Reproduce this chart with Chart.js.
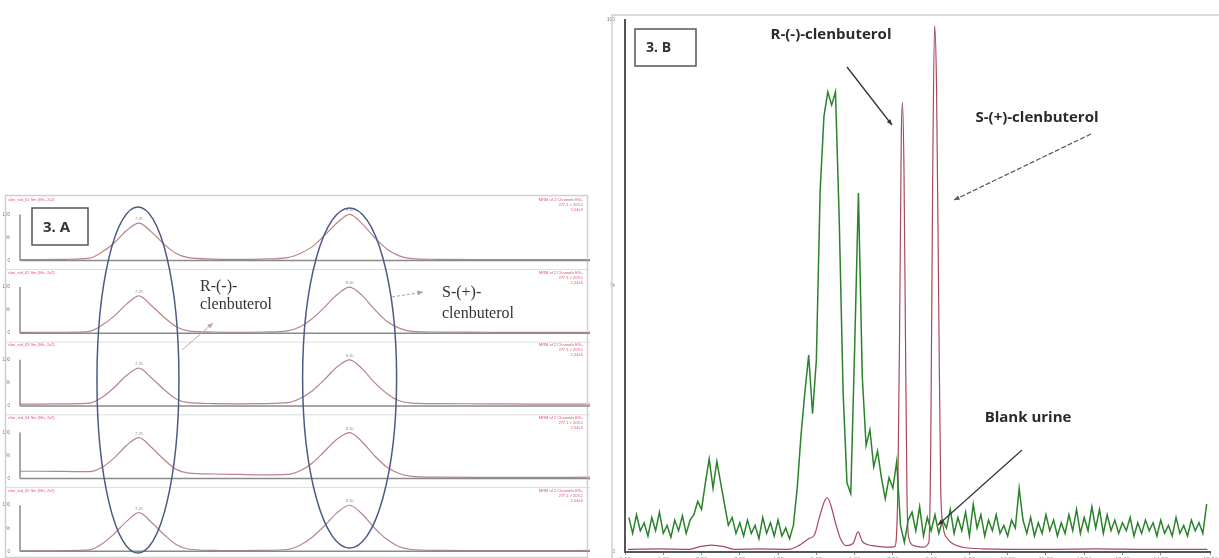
<!DOCTYPE html>
<html>
<head>
<meta charset="utf-8">
<script src="https://cdn.jsdelivr.net/npm/chart.js@4.4.1/dist/chart.umd.min.js"></script>
<style>
  html, body { margin: 0; padding: 0; background: #fff; overflow: hidden; }
  #wrapA { position: absolute; left: 0; top: 185px; width: 595px; height: 373px; }
  #wrapB { position: absolute; left: 600px; top: 0; width: 619px; height: 566px; }
</style>
</head>
<body>
<div id="wrapA"><canvas id="chartA"></canvas></div>
<div id="wrapB"><canvas id="chartB"></canvas></div>
<script>
// ---- Panel 3.A : five replicate chromatograms (relative abundance, %) ----
const timesA = [6.77, 6.85, 6.95, 7.05, 7.10, 7.15, 7.20, 7.25, 7.30, 7.35, 7.40, 7.45, 7.55, 7.65, 7.75,
                7.85, 7.90, 7.95, 8.00, 8.05, 8.10, 8.15, 8.20, 8.25, 8.30, 8.35, 8.45, 8.65, 8.85, 9.07];
const row1 = [2, 2, 2.5, 5, 18, 38, 65, 81, 62, 36, 15, 6, 3, 2.5, 3, 6, 15, 30, 55, 82, 100, 80, 50, 25, 10, 4, 2.5, 2, 2, 2];
const row2 = [1.5, 2, 2, 4, 17, 37, 63, 81, 60, 35, 14, 5, 2.5, 2, 2.5, 5, 14, 32, 57, 84, 100, 82, 52, 26, 11, 4, 2.5, 2, 1.5, 1.5];
const row3 = [4, 4, 4.5, 6, 18, 40, 66, 82, 61, 36, 15, 7, 5, 4.5, 5, 7, 16, 33, 58, 85, 100, 81, 51, 27, 11, 6, 5, 4.5, 4, 4];
const row4 = [16, 16, 15.5, 15, 24, 45, 72, 89, 68, 42, 20, 12, 10, 9, 8, 9, 17, 34, 60, 86, 100, 80, 50, 25, 11, 5, 3, 2.5, 2.5, 3];
const row5 = [1, 1, 1.5, 3, 16, 38, 65, 84, 63, 37, 15, 5, 2, 1.5, 2, 4, 13, 31, 56, 84, 100, 81, 51, 26, 10, 4, 2, 1.5, 1.5, 2];
const rowsA = [row1, row2, row3, row4, row5];
const rowHeaders = ['clen_std_01 Sm (Mn, 2x2)', 'clen_std_02 Sm (Mn, 2x2)', 'clen_std_03 Sm (Mn, 2x2)',
                    'clen_std_04 Sm (Mn, 2x2)', 'clen_std_05 Sm (Mn, 2x2)'];
const rowInfo = ['MRM of 2 Channels ES+', '277.1 > 203.1', '1.54e5'];

// ---- Panel 3.B : spiked vs blank urine (relative abundance, %) ----
const greenStep = 0.1; // min, uniform sampling starting at 0.1
const blankUrine = [
  6.5, 3.5, 7, 4, 5.5, 3, 6.5, 4, 7.5, 3.5, 5, 2.8, 6, 4, 6.8, 3.5, 6,
  7, 9.5, 8, 13, 17.5, 12, 17, 13, 9, 5, 6.5, 3.5,
  5.5, 3, 6, 3.5, 5, 2.5, 6.5, 3.5, 5.5, 3, 6, 3, 4.5, 2.5,
  5, 12, 22, 30, 37, 26, 36, 68, 82, 86.5, 84, 86.5, 62, 30, 13, 11, 38, 67.5, 33, 20, 23, 16, 19, 14, 10, 14, 12, 17, 5, 1.8,
  6, 7.5, 4, 8.5, 3, 6.5, 4, 7, 3.5, 6, 4.5, 8, 3.5, 6.5, 4, 7.5, 3, 9, 4.5, 7, 3, 6, 4, 7, 3.5, 5, 3, 6, 4.5, 12,
  6, 3.5, 6.5, 3, 5.5, 3.5, 7, 4, 6, 3, 5.5, 3.5, 7, 4, 8, 3.5, 6.5, 4, 8.5, 4.5, 8, 3.5, 7, 4, 6, 3.5,
  5.5, 4, 6.5, 3, 5.5, 3.5, 6, 4, 5.5, 3, 6, 3.5, 5, 3, 6.5, 3.5, 5, 3, 6, 4, 5.5, 3.5, 9
];
const spikeTimes = [0.08, 0.91, 1.69, 1.95, 2.26, 2.59, 2.85, 3.50, 4.28, 4.54, 4.80, 4.95, 5.08, 5.21, 5.29, 5.39,
                    5.50, 5.63, 5.78, 5.96, 6.09, 6.20, 6.33, 6.56, 6.87, 7.05, 7.13, 7.18, 7.22, 7.25, 7.29, 7.33,
                    7.37, 7.42, 7.55, 7.78, 7.94, 7.99, 8.04, 8.09, 8.14, 8.20, 8.25, 8.32, 8.43, 8.58, 8.82, 9.34,
                    11.02, 12.32, 13.62, 15.22];
const spikeValues = [0.5, 0.6, 0.5, 1.0, 1.3, 1.0, 0.5, 0.6, 0.5, 1.2, 2.5, 3.2, 6.5, 9.5, 10.2, 8.5,
                     5.5, 2.5, 1.2, 1.6, 3.8, 2.0, 1.4, 1.1, 0.9, 1.0, 12, 45, 78, 84.5, 72, 40,
                     10, 2.5, 1.2, 0.9, 1.8, 20, 70, 99, 88, 45, 12, 4.5, 2.5, 1.5, 0.9, 0.6,
                     0.5, 0.6, 0.5, 0.5];

Chart.defaults.font.family = "'Liberation Sans', Arial, sans-serif";

function arrow(ctx, x1, y1, x2, y2, color, width, dash) {
    ctx.save();
    ctx.strokeStyle = color;
    ctx.fillStyle = color;
    ctx.lineWidth = width;
    ctx.setLineDash(dash || []);
    ctx.beginPath();
    ctx.moveTo(x1, y1);
    ctx.lineTo(x2, y2);
    ctx.stroke();
    ctx.setLineDash([]);
    const a = Math.atan2(y2 - y1, x2 - x1);
    ctx.beginPath();
    ctx.moveTo(x2, y2);
    ctx.lineTo(x2 - 6 * Math.cos(a - 0.4), y2 - 6 * Math.sin(a - 0.4));
    ctx.lineTo(x2 - 6 * Math.cos(a + 0.4), y2 - 6 * Math.sin(a + 0.4));
    ctx.closePath();
    ctx.fill();
    ctx.restore();
}

function labelBox(ctx, text, x, y, w, h, size) {
    ctx.save();
    ctx.strokeStyle = '#555';
    ctx.lineWidth = 1.5;
    ctx.strokeRect(x, y, w, h);
    ctx.fillStyle = '#333';
    ctx.font = 'bold ' + size + "px 'Open Sans', sans-serif";
    ctx.textAlign = 'left';
    ctx.textBaseline = 'middle';
    ctx.fillText(text, x + 11, y + h / 2 + 1);
    ctx.restore();
}

// ---------------- Chart 3.A ----------------
const decorA = {
    id: 'decorA',
    afterDraw(chart) {
        const ctx = chart.ctx;
        const area = chart.chartArea;
        const xs = chart.scales.x;
        ctx.save();
        // outer frame
        ctx.strokeStyle = '#cfcfcf';
        ctx.lineWidth = 1.5;
        ctx.strokeRect(5.5, 10.5, 582, 362);

        rowsA.forEach((vals, i) => {
            const s = chart.scales['r' + i];
            const y0 = s.getPixelForValue(0);
            // separator + baseline + short y axis
            if (i > 0) {
                ctx.strokeStyle = '#dcdcdc';
                ctx.lineWidth = 1;
                ctx.beginPath(); ctx.moveTo(5, s.top + 7); ctx.lineTo(area.right, s.top + 7); ctx.stroke();
            }
            ctx.strokeStyle = '#8a8a8a';
            ctx.lineWidth = 1.5;
            ctx.beginPath(); ctx.moveTo(area.left, y0); ctx.lineTo(area.right, y0); ctx.stroke();
            ctx.beginPath(); ctx.moveTo(area.left, y0); ctx.lineTo(area.left, s.getPixelForValue(100)); ctx.stroke();
            // red header texts
            ctx.fillStyle = '#e0506a';
            ctx.font = "4px 'Liberation Sans', sans-serif";
            ctx.textBaseline = 'middle';
            ctx.textAlign = 'left';
            ctx.fillText(rowHeaders[i], 8, s.top + 10);
            ctx.textAlign = 'right';
            rowInfo.forEach((t, k) => ctx.fillText(t, 583, s.top + 10 + k * 5));
            // apex retention time labels
            ctx.fillStyle = '#8a8a8a';
            ctx.textAlign = 'center';
            [[6.9, 7.6], [7.8, 8.5]].forEach(([a, b]) => {
                let best = -1;
                timesA.forEach((t, j) => { if (t > a && t < b && (best < 0 || vals[j] > vals[best])) best = j; });
                ctx.fillText(timesA[best].toFixed(2), xs.getPixelForValue(timesA[best]), s.getPixelForValue(vals[best]) - 4);
            });
        });

        // ellipses around the two enantiomer peaks
        ctx.strokeStyle = '#4c5b85';
        ctx.lineWidth = 1.5;
        ctx.beginPath();
        ctx.ellipse(xs.getPixelForValue(7.25) - 1, 195, 41, 173, 0, 0, Math.PI * 2);
        ctx.stroke();
        ctx.beginPath();
        ctx.ellipse(xs.getPixelForValue(8.10), 193, 47, 170, 0, 0, Math.PI * 2);
        ctx.stroke();

        // annotations
        ctx.fillStyle = '#333';
        ctx.textAlign = 'left';
        ctx.textBaseline = 'middle';
        ctx.font = "16px 'Liberation Serif', serif";
        ctx.fillText('R-(-)-', 200, 102);
        ctx.fillText('clenbuterol', 200, 120);
        ctx.fillText('S-(+)-', 442, 108);
        ctx.fillText('clenbuterol', 442, 129);
        arrow(ctx, 182, 165, 213, 138, '#c9a0a8', 1, []);
        arrow(ctx, 392, 112, 423, 107, '#a0a0a0', 1, [3, 2]);

        labelBox(ctx, '3. A', 32, 23, 56, 37, 15);
        ctx.restore();
    }
};

const scalesA = { x: { type: 'linear', min: 6.77, max: 9.07, display: false } };
for (let i = rowsA.length - 1; i >= 0; i--) {
    scalesA['r' + i] = {
        type: 'linear', position: 'left', stack: 'rows', stackWeight: 1,
        min: -4.3, max: 153.6,
        grid: { display: false },
        border: { display: false },
        afterBuildTicks: s => { s.ticks = [{ value: 0 }, { value: 50 }, { value: 100 }]; },
        afterFit: s => { s.width = 20; },
        ticks: { font: { size: 4.5 }, color: '#777', padding: 2, callback: v => (v === 50 ? '%' : String(v)) }
    };
}

new Chart(document.getElementById('chartA'), {
    type: 'line',
    data: {
        datasets: rowsA.map((vals, i) => ({
            label: 'Replicate ' + (i + 1),
            data: timesA.map((t, j) => ({ x: t, y: vals[j] })),
            yAxisID: 'r' + i,
            borderColor: '#b8838d',
            borderWidth: 1.2,
            pointRadius: 0,
            cubicInterpolationMode: 'monotone'
        }))
    },
    options: {
        animation: false,
        responsive: true,
        maintainAspectRatio: false,
        layout: { padding: { top: 3, right: 5, bottom: 2, left: 0 } },
        plugins: { legend: { display: false }, tooltip: { enabled: false } },
        scales: scalesA
    },
    plugins: [decorA]
});

// ---------------- Chart 3.B ----------------
const decorB = {
    id: 'decorB',
    afterDraw(chart) {
        const ctx = chart.ctx;
        ctx.save();
        ctx.strokeStyle = '#d0d0d0';
        ctx.lineWidth = 1.5;
        ctx.beginPath();
        ctx.moveTo(12, 566); ctx.lineTo(12, 15); ctx.lineTo(619, 15);
        ctx.stroke();

        ctx.fillStyle = '#2a2a2a';
        ctx.textAlign = 'center';
        ctx.textBaseline = 'middle';
        ctx.font = "bold 15px 'Open Sans', sans-serif";
        ctx.fillText('R-(-)-clenbuterol', 231, 35);
        ctx.fillText('S-(+)-clenbuterol', 437, 118);
        ctx.fillText('Blank urine', 428, 418);
        arrow(ctx, 247, 67, 292, 125, '#333', 1.3, []);
        arrow(ctx, 491, 134, 354, 200, '#555', 1.2, [5, 2]);
        arrow(ctx, 422, 450, 338, 525, '#333', 1.2, []);

        labelBox(ctx, '3. B', 35, 29, 61, 37, 14);
        ctx.restore();
    }
};

new Chart(document.getElementById('chartB'), {
    type: 'line',
    data: {
        datasets: [
            {
                label: 'Blank urine',
                data: blankUrine.map((v, i) => ({ x: +(greenStep * (i + 1)).toFixed(2), y: v })),
                borderColor: '#2a822a',
                borderWidth: 1.5,
                pointRadius: 0,
                tension: 0
            },
            {
                label: 'Spiked urine',
                data: spikeTimes.map((t, i) => ({ x: t, y: spikeValues[i] })),
                borderColor: '#a8485a',
                borderWidth: 1.2,
                pointRadius: 0,
                cubicInterpolationMode: 'monotone'
            }
        ]
    },
    options: {
        animation: false,
        responsive: true,
        maintainAspectRatio: false,
        layout: { padding: { top: 20, right: 4, bottom: 0, left: 0 } },
        plugins: { legend: { display: false }, tooltip: { enabled: false } },
        scales: {
            x: {
                type: 'linear', min: 0, max: 15.3,
                afterFit: s => { s.height = 14; },
                grid: { display: true, drawOnChartArea: false, drawTicks: true, tickLength: 3, color: '#888' },
                border: { color: '#555', width: 2 },
                ticks: { stepSize: 1, font: { size: 6 }, color: '#999', padding: 1, callback: v => Number(v).toFixed(2) }
            },
            y: {
                min: 0, max: 100,
                afterFit: s => { s.width = 25; },
                afterBuildTicks: s => { s.ticks = [{ value: 0 }, { value: 50 }, { value: 100 }]; },
                grid: { display: false },
                border: { color: '#555', width: 2 },
                ticks: { font: { size: 5 }, color: '#777', padding: 2, callback: v => (v === 50 ? '%' : String(v)) }
            }
        }
    },
    plugins: [decorB]
});
</script>
</body>
</html>
